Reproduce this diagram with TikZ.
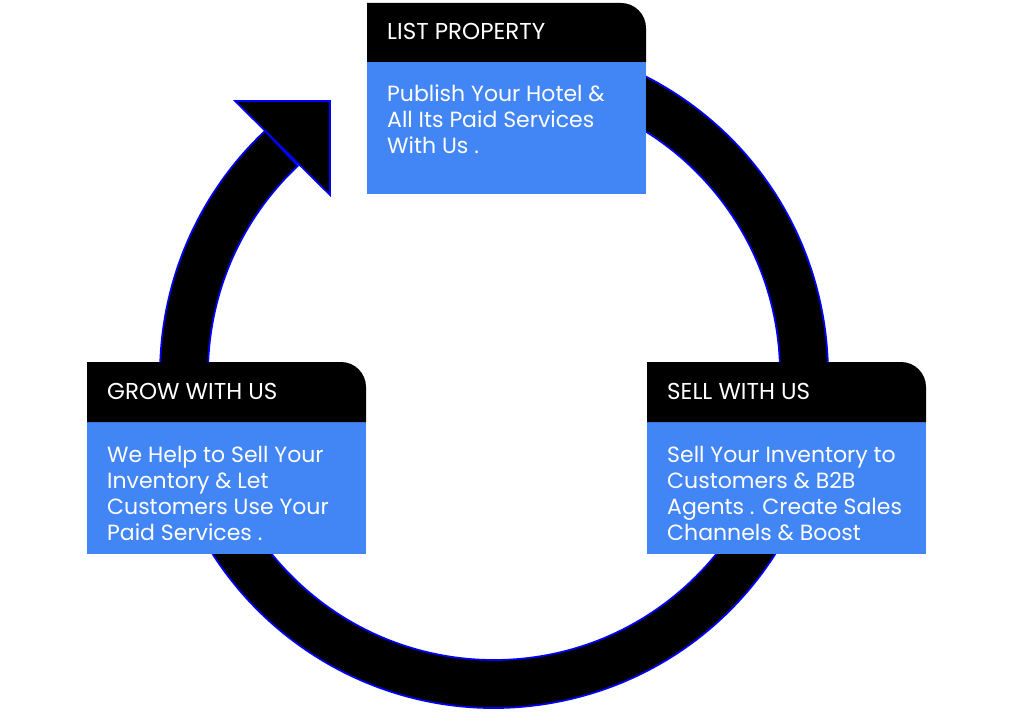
\documentclass[tikz,border=0pt]{standalone}
\usepackage{fontspec}
\setmainfont{Poppins}
\usetikzlibrary{calc}
\definecolor{boxblue}{RGB}{66,133,244}
\definecolor{edgeblue}{RGB}{0,0,255}
\begin{document}
\begin{tikzpicture}[x=1pt,y=1pt,
  ringstyle/.style={fill=black,draw=edgeblue,line width=1.7pt,line join=miter},
  headfill/.style={fill=black},
  bodyfill/.style={fill=boxblue},
  txt/.style={anchor=base west,inner sep=0pt,text=white,font=\fontsize{22}{26}\selectfont},
  htxt/.style={txt,font=\fontsize{23}{26}\selectfont}]
\useasboundingbox (0,0) rectangle (1036,724);
\coordinate (c) at (494,350);
% ring
\draw[ringstyle] ($(c)+(100:334)$) arc[start angle=100,end angle=-226.7,radius=334]
  -- ($(c)+(-226.7:286)$) arc[start angle=-226.7,end angle=100,radius=286] -- cycle;
% arrow head
\coordinate (a1) at (235,623);
\coordinate (a2) at (330,623);
\coordinate (a3) at (330,529);
\draw[ringstyle] (a1) -- (a2) -- (a3) -- cycle;
% LIST PROPERTY box
\fill[bodyfill] (367,529.5) rectangle (646,662);
\fill[headfill] (367,662) -- (367,721) -- (621,721) arc[start angle=90,end angle=0,radius=25] -- (646,662) -- cycle;
\node[htxt] (h1) at (387,684) {LIST PROPERTY};
\node[txt] (b1a) at (387,622) {Publish Your Hotel \&};
\node[txt] (b1b) at (387,596) {All Its Paid Services};
\node[txt] (b1c) at (387,570) {With Us .};
% GROW WITH US box
\fill[bodyfill] (87,170) rectangle (366,302);
\fill[headfill] (87,302) -- (87,362) -- (341,362) arc[start angle=90,end angle=0,radius=25] -- (366,302) -- cycle;
\node[htxt] (h2) at (107,325) {GROW WITH US};
\node[txt] (b2a) at (107,262) {We Help to Sell Your};
\node[txt] (b2b) at (107,236) {Inventory \& Let};
\node[txt] (b2c) at (107,210) {Customers Use Your};
\node[txt] (b2d) at (107,184) {Paid Services .};
% SELL WITH US box
\fill[bodyfill] (647,170) rectangle (926,302);
\fill[headfill] (647,302) -- (647,362) -- (901,362) arc[start angle=90,end angle=0,radius=25] -- (926,302) -- cycle;
\node[htxt] (h3) at (667,325) {SELL WITH US};
\node[txt] (b3a) at (667,262) {Sell Your Inventory to};
\node[txt] (b3b) at (667,236) {Customers \& B2B};
\node[txt] (b3c) at (667,210) {Agents . Create Sales};
\node[txt] (b3d) at (667,184) {Channels \& Boost};
\end{tikzpicture}
\end{document}
